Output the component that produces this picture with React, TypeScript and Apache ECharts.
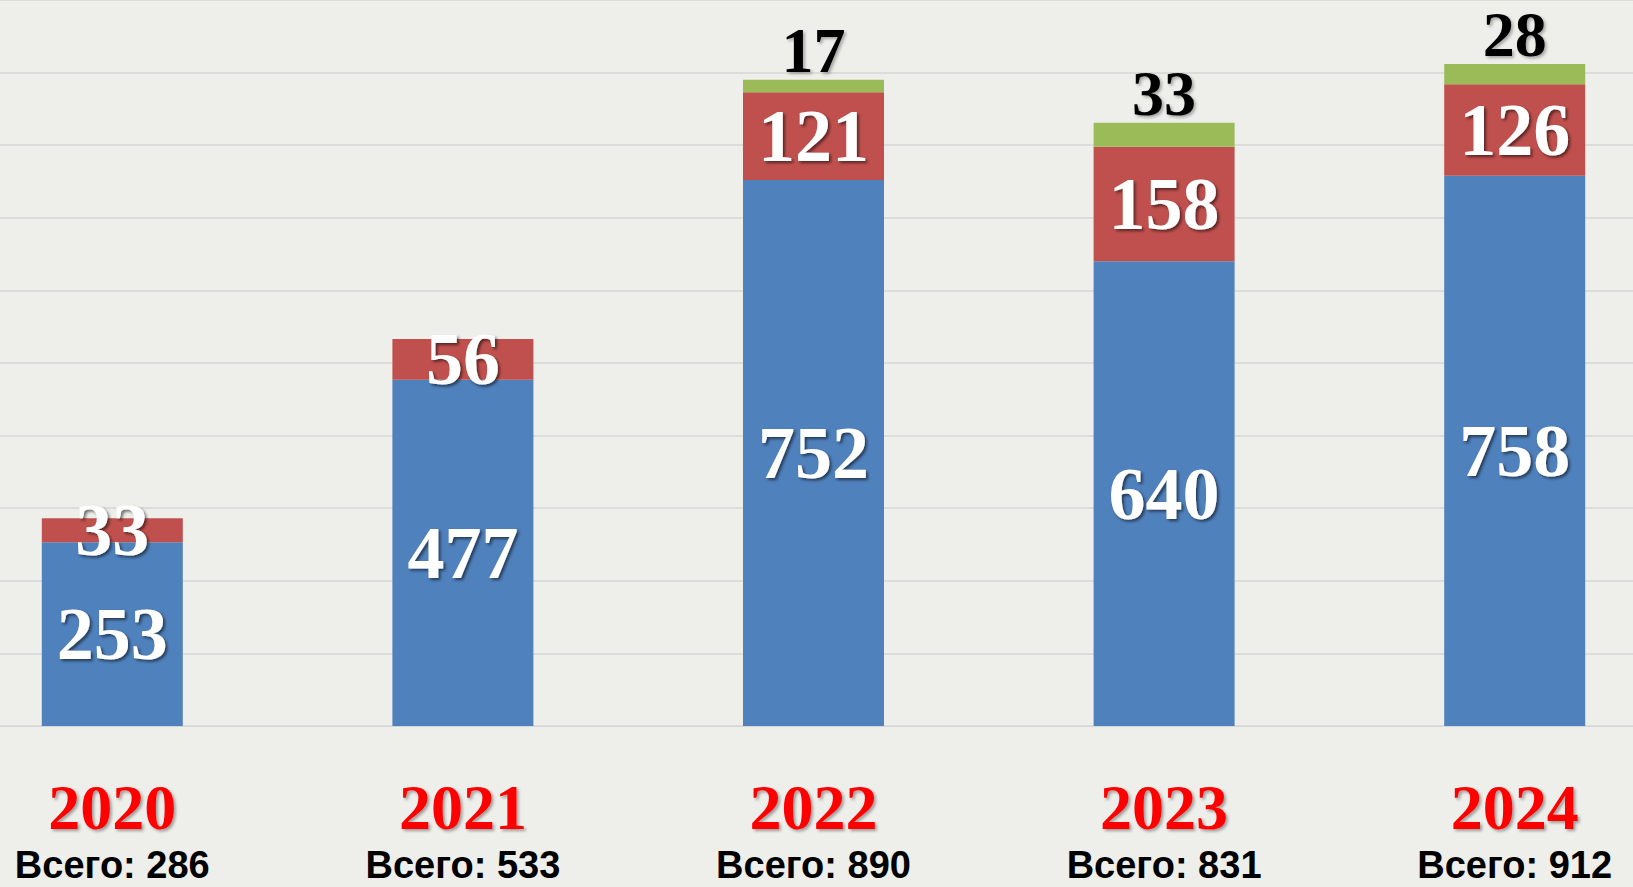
import React, { useEffect, useRef } from "react";
import * as echarts from "echarts";

const years = ["2020", "2021", "2022", "2023", "2024"];
const blueValues = [253, 477, 752, 640, 758];
const redValues = [33, 56, 121, 158, 126];
const greenValues: (number | null)[] = [null, null, 17, 33, 28];
const totals = years.map((_, i) => blueValues[i] + redValues[i] + (greenValues[i] ?? 0));

export default function App() {
  const ref = useRef<HTMLDivElement>(null);
  useEffect(() => {
    if (!ref.current) return;
    const chart = echarts.init(ref.current, null, { renderer: "svg" });
    const innerLabel = {
      show: true,
      position: "inside" as const,
      color: "#ffffff",
      fontFamily: "'Liberation Serif', 'Times New Roman', serif",
      fontWeight: "bold" as const,
      fontSize: 74,
      textShadowColor: "rgba(0,0,0,0.55)",
      textShadowBlur: 3,
      textShadowOffsetX: 2,
      textShadowOffsetY: 2,
    };
    chart.setOption({
      animation: false,
      backgroundColor: "#eeeeeb",
      grid: { left: 0, right: 0, top: 0, bottom: 161, containLabel: false },
      xAxis: {
        type: "category",
        data: years,
        axisLine: { show: true, lineStyle: { color: "#d6d6d6", width: 1 } },
        axisTick: { show: false },
        axisLabel: {
          interval: 0,
          margin: 44,
          formatter: (v: string, i: number) => `{y|${v}}\n{t|Всего: ${totals[i]}}`,
          rich: {
            y: {
              fontFamily: "'Liberation Serif', 'Times New Roman', serif",
              fontWeight: "bold",
              fontSize: 64,
              color: "#ff0000",
              lineHeight: 74,
              textShadowColor: "rgba(0,0,0,0.35)",
              textShadowBlur: 3,
              textShadowOffsetX: 2,
              textShadowOffsetY: 2,
            },
            t: {
              fontFamily: "'Liberation Sans', Arial, sans-serif",
              fontWeight: "bold",
              fontSize: 38,
              color: "#000000",
              lineHeight: 42,
            },
          },
        },
      },
      yAxis: {
        type: "value",
        min: 0,
        max: 1000,
        interval: 100,
        axisLabel: { show: false },
        axisLine: { show: false },
        axisTick: { show: false },
        splitLine: { show: true, lineStyle: { color: "#d6d6d6", width: 1.5 } },
      },
      series: [
        {
          type: "bar",
          stack: "total",
          data: blueValues,
          barWidth: 141,
          itemStyle: { color: "#4f81bd" },
          label: innerLabel,
        },
        {
          type: "bar",
          stack: "total",
          data: redValues,
          barWidth: 141,
          itemStyle: { color: "#c0504d" },
          label: innerLabel,
        },
        {
          type: "bar",
          stack: "total",
          data: greenValues,
          barWidth: 141,
          itemStyle: { color: "#9bbb59" },
          label: {
            show: true,
            position: "top",
            distance: -1,
            lineHeight: 60,
            color: "#000000",
            fontFamily: "'Liberation Serif', 'Times New Roman', serif",
            fontWeight: "bold",
            fontSize: 64,
            textShadowColor: "rgba(0,0,0,0.3)",
            textShadowBlur: 3,
            textShadowOffsetX: 2,
            textShadowOffsetY: 2,
          },
        },
      ],
    });
    return () => chart.dispose();
  }, []);
  return (
    <div style={{ position: "fixed", left: 0, top: 0, width: 1633, height: 887, overflow: "hidden", background: "#eeeeeb" }}>
      <div
        ref={ref}
        style={{ position: "absolute", left: -63, top: 0, width: 1753, height: 887 }}
      />
    </div>
  );
}
